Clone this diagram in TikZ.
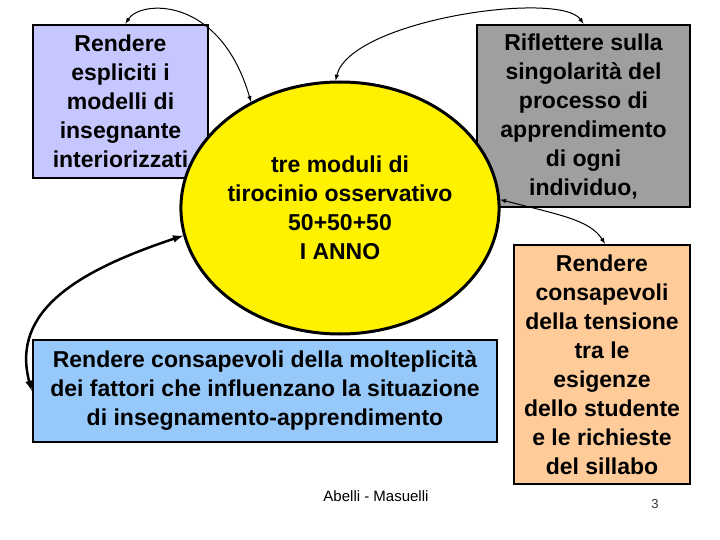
\documentclass[tikz,border=0pt]{standalone}
\usepackage{fontspec}
\setmainfont{Liberation Sans}
\usetikzlibrary{shapes.geometric}
\begin{document}
\begin{tikzpicture}[x=1pt,y=-1pt,
  box/.style={draw,line width=2.5pt,align=center,font=\bfseries\fontsize{23}{29}\selectfont,inner sep=0pt},
  con/.style={line width=1pt,<->,>=latex}]
\useasboundingbox (0,0) rectangle (720,540);
\node[box,fill=blue!22,minimum width=175,minimum height=153] (a) at (120.5,101.5) {Rendere\\espliciti i\\modelli di\\insegnante\\interiorizzati};
\node[box,fill=gray!75,minimum width=213,minimum height=182] (b) at (583.5,116) {Riflettere sulla\\singolarità del\\processo di\\apprendimento\\di ogni\\individuo,};
\node[box,fill=orange!40!white,minimum width=176,minimum height=239] (c) at (602,364.5) {Rendere\\consapevoli\\della tensione\\tra le\\esigenze\\dello studente\\e le richieste\\del sillabo};
\node[box,fill={rgb,255:red,150;green,200;blue,250},minimum width=464,minimum height=102] (d) at (265,391) {Rendere consapevoli della molteplicità\\dei fattori che influenzano la situazione\\di insegnamento-apprendimento};
\node[draw,line width=3pt,fill=yellow,ellipse,minimum width=256,minimum height=252,inner sep=0pt,align=center,font=\bfseries\fontsize{23}{29}\selectfont] (e) at (340,208) {tre moduli di\\tirocinio osservativo\\50+50+50\\I ANNO};
\node[font=\fontsize{15}{17}\selectfont] (f) at (376,496) {Abelli - Masuelli};
\node[font=\fontsize{13}{15}\selectfont,text=black!80] (g) at (655,504) {3};
\draw[con] (a.north) ++(5,0) coordinate (a1) (a1) .. controls (140,0) and (220,-5) .. (e.130);
\draw[con] (e.92) .. controls (350,20) and (560,-10) .. (b.north);
\draw[con] (e.3) .. controls (560,215) and (590,220) .. ([xshift=3]c.north);
\draw[<->,>=latex,line width=2.5pt] (e.190) .. controls (80,270) and (10,310) .. (d.west);
\end{tikzpicture}
\end{document}
